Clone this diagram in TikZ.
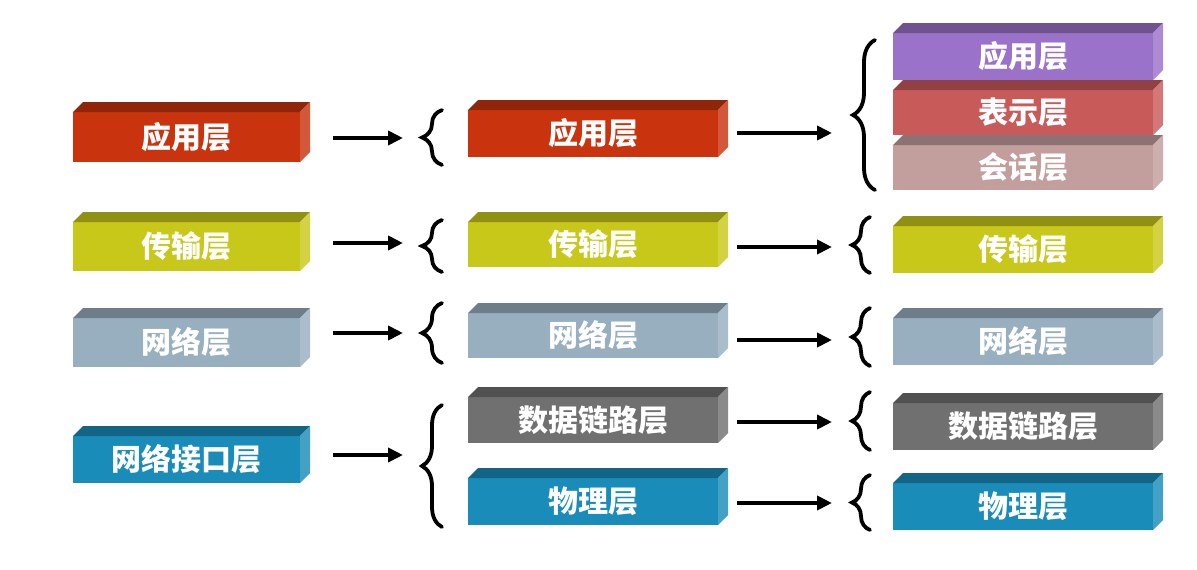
\documentclass[tikz,border=0pt]{standalone}
\usepackage{fontspec}
\newfontfamily\cjk{Noto Sans CJK SC}
\usetikzlibrary{arrows.meta,decorations.pathreplacing}
\definecolor{cred}{HTML}{C9330E}
\definecolor{cyel}{HTML}{C8C81A}
\definecolor{cgb}{HTML}{98AFC0}
\definecolor{cblue}{HTML}{1A8CBA}
\definecolor{cgray}{HTML}{707070}
\definecolor{cpur}{HTML}{9B72C9}
\definecolor{cpres}{HTML}{C95A5A}
\definecolor{csess}{HTML}{C29E9C}
\tikzset{
  layer/.style={inner sep=0pt, outer sep=0pt, draw=none, text=white,
    font=\cjk\bfseries\fontsize{30}{32}\selectfont},
  arr/.style={line width=4pt, -{Triangle[length=15pt,width=14pt]}},
  brc/.style={line width=3.8pt, line cap=round, decorate, decoration={brace, amplitude=#1, aspect=0.5}},
  brc/.default=20pt
}
\newcommand{\layerbox}[7]{%
  \node[layer, fill=#6, minimum width={(#4-#2)*1pt}, minimum height={(#5-#3)*1pt}, anchor=north west] (#1) at (#2,#3) {#7};
  \fill[#6!72!black] (#1.north west) -- ++(10,-10) -- ([shift={(10,-10)}]#1.north east) -- (#1.north east) -- cycle;
  \fill[#6!82!white] (#1.north east) -- ++(10,-10) -- ([shift={(10,-10)}]#1.south east) -- (#1.south east) -- cycle;
}
\begin{document}
\begin{tikzpicture}[x=1pt,y=-1pt]
\useasboundingbox[fill=white] (0,0) rectangle (1197,570);
% left column
\layerbox{L1}{73}{112}{300}{162}{cred}{应用层}
\layerbox{L2}{73}{222}{300}{271}{cyel}{传输层}
\layerbox{L3}{73}{318}{300}{367}{cgb}{网络层}
\layerbox{L4}{73}{436}{300}{483}{cblue}{网络接口层}
% middle column
\layerbox{M1}{468}{110}{718}{157}{cred}{应用层}
\layerbox{M2}{468}{222}{718}{267}{cyel}{传输层}
\layerbox{M3}{468}{313}{718}{358}{cgb}{网络层}
\layerbox{M4}{468}{397}{718}{443}{cgray}{数据链路层}
\layerbox{M5}{468}{478}{718}{525}{cblue}{物理层}
% right column
\layerbox{R1}{893}{33}{1153}{80}{cpur}{应用层}
\layerbox{R2}{893}{90}{1153}{135}{cpres}{表示层}
\layerbox{R3}{893}{145}{1153}{190}{csess}{会话层}
\layerbox{R4}{893}{226}{1153}{273}{cyel}{传输层}
\layerbox{R5}{893}{318}{1153}{365}{cgb}{网络层}
\layerbox{R6}{893}{403}{1153}{450}{cgray}{数据链路层}
\layerbox{R7}{893}{483}{1153}{530}{cblue}{物理层}
% left braces
\coordinate (B1t) at (442,110); \coordinate (B1b) at (442,165);
\coordinate (B2t) at (442,220); \coordinate (B2b) at (442,272);
\coordinate (B3t) at (442,303); \coordinate (B3b) at (442,363);
\coordinate (B4t) at (442,405); \coordinate (B4b) at (442,527);
\draw[brc] (B1b) -- (B1t);
\draw[brc] (B2b) -- (B2t);
\draw[brc] (B3b) -- (B3t);
\draw[brc] (B4b) -- (B4t);
% right braces
\coordinate (C1t) at (875,40);  \coordinate (C1b) at (875,190);
\coordinate (C2t) at (870,217); \coordinate (C2b) at (870,273);
\coordinate (C3t) at (870,308); \coordinate (C3b) at (870,366);
\coordinate (C4t) at (870,392); \coordinate (C4b) at (870,450);
\coordinate (C5t) at (870,475); \coordinate (C5b) at (870,530);
\draw[brc=22pt] (C1b) -- (C1t);
\draw[brc=18pt] (C2b) -- (C2t);
\draw[brc=18pt] (C3b) -- (C3t);
\draw[brc=18pt] (C4b) -- (C4t);
\draw[brc=18pt] (C5b) -- (C5t);
% left arrows
\coordinate (a1e) at (403,138);
\coordinate (a2e) at (403,243);
\coordinate (a3e) at (403,333);
\coordinate (a4e) at (403,455);
\draw[arr] ([xshift=33pt]L1.east |- a1e) -- (a1e);
\draw[arr] ([xshift=33pt]L2.east |- a2e) -- (a2e);
\draw[arr] ([xshift=33pt]L3.east |- a3e) -- (a3e);
\draw[arr] ([xshift=33pt]L4.east |- a4e) -- (a4e);
% right arrows
\coordinate (b1e) at (832,133);
\coordinate (b2e) at (832,247);
\coordinate (b3e) at (832,340);
\coordinate (b4e) at (832,422);
\coordinate (b5e) at (832,503);
\draw[arr] ([xshift=19pt]M1.east |- b1e) -- (b1e);
\draw[arr] ([xshift=19pt]M2.east |- b2e) -- (b2e);
\draw[arr] ([xshift=19pt]M3.east |- b3e) -- (b3e);
\draw[arr] ([xshift=19pt]M4.east |- b4e) -- (b4e);
\draw[arr] ([xshift=19pt]M5.east |- b5e) -- (b5e);
\end{tikzpicture}
\end{document}
